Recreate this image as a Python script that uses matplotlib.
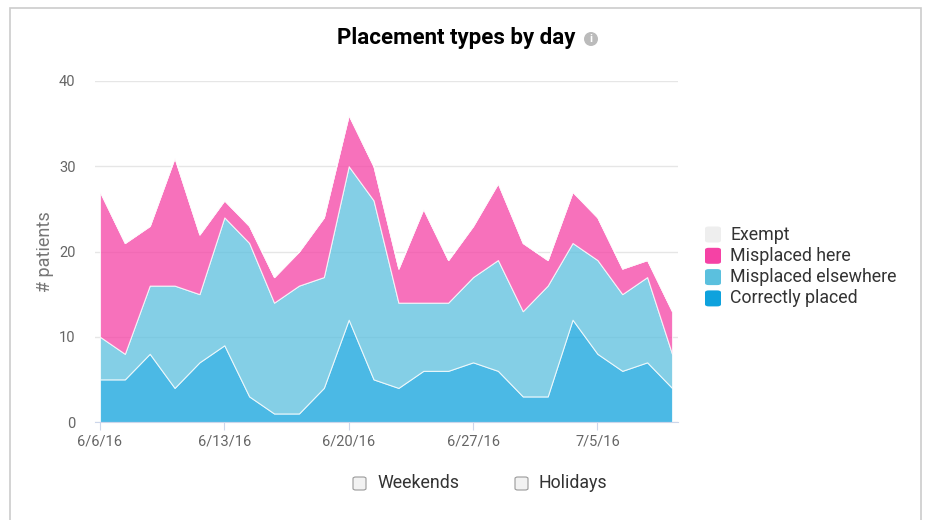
import numpy as np
import matplotlib.pyplot as plt
from matplotlib.patches import FancyBboxPatch, Rectangle, Ellipse

plt.rcParams['font.family'] = ['Roboto', 'DejaVu Sans']

# Weekdays only (7/4 holiday skipped)
days = ['6/6', '6/7', '6/8', '6/9', '6/10',
        '6/13', '6/14', '6/15', '6/16', '6/17',
        '6/20', '6/21', '6/22', '6/23', '6/24',
        '6/27', '6/28', '6/29', '6/30', '7/1',
        '7/5', '7/6', '7/7', '7/8']
correct = [5, 5, 8, 4, 7, 9, 3, 1, 1, 4, 12, 5, 4, 6, 6, 7, 6, 3, 3, 12, 8, 6, 7, 4]
elsewhere = [5, 3, 8, 12, 8, 15, 18, 13, 15, 13, 18, 21, 10, 8, 8, 10, 13, 10, 13, 9, 11, 9, 10, 4]
here = [17, 13, 7, 15, 7, 2, 2, 3, 4, 7, 6, 4, 4, 11, 5, 6, 9, 8, 3, 6, 5, 3, 2, 5]
exempt = [0] * len(days)

tick_idx = [0, 5, 10, 15, 20]
tick_labels = ['6/6/16', '6/13/16', '6/20/16', '6/27/16', '7/5/16']

series_names = ['Correctly placed', 'Misplaced elsewhere', 'Misplaced here', 'Exempt']
colors = ['#0ea2dd', '#5bc0de', '#f542a5', '#eeeeee']

W, H = 926, 520
fig = plt.figure(figsize=(W / 100, H / 100), dpi=100)
ax = fig.add_axes([95 / W, 1 - 422 / H, (678 - 95) / W, (422 - 81) / H])

x = np.arange(len(days))
ax.stackplot(x, correct, elsewhere, here, exempt, colors=colors, alpha=0.75,
             edgecolor=(1, 1, 1, 0.5), linewidth=0.8)

ax.set_xlim(-0.2, 23.24)
ax.set_ylim(0, 40)
ax.set_yticks([0, 10, 20, 30, 40])
ax.grid(axis='y', color='#e6e6e6', linewidth=1)
ax.set_axisbelow(True)
for s in ['top', 'right', 'left']:
    ax.spines[s].set_visible(False)
ax.spines['bottom'].set_color('#ccd6eb')
ax.tick_params(axis='y', length=0, labelsize=10.5, labelcolor='#666666', pad=14)
ax.set_xticks(tick_idx)
ax.set_xticklabels(tick_labels)
ax.tick_params(axis='x', length=6, color='#ccd6eb', labelsize=10.5, labelcolor='#666666', pad=3)
ax.set_ylabel('# patients', fontsize=13, color='#777777', labelpad=4)

# title + info icon
fig.text(456 / W, 1 - 38 / H, 'Placement types by day', ha='center', va='center',
         fontsize=16, fontweight='bold', color='#000000')
fig.patches.append(Ellipse((591 / W, 1 - 39 / H), 14 / W, 14 / H, transform=fig.transFigure,
                           facecolor='#bbbbbb', edgecolor='none'))
fig.text(591 / W, 1 - 39.5 / H, 'i', ha='center', va='center', fontsize=8,
         fontweight='bold', color='white')

# legend (top to bottom)
leg_names = series_names[::-1]
leg_colors = colors[::-1]
for i, (n, c) in enumerate(zip(leg_names, leg_colors)):
    yc = 234.5 + i * 21.3
    fig.patches.append(FancyBboxPatch((705 / W, 1 - (yc + 8) / H), 16 / W, 16 / H,
                                      boxstyle='round,pad=0,rounding_size=0.004',
                                      transform=fig.transFigure, facecolor=c, edgecolor='none'))
    fig.text(730 / W, 1 - yc / H, n, ha='left', va='center', fontsize=12.8, color='#333333')

# checkboxes
for bx, label in [(359, 'Weekends'), (521, 'Holidays')]:
    fig.patches.append(FancyBboxPatch(((bx - 6) / W, 1 - 490 / H), 13 / W, 13 / H,
                                      boxstyle='round,pad=0,rounding_size=0.003',
                                      transform=fig.transFigure, facecolor='#f2f2f2',
                                      edgecolor='#999999', linewidth=0.8))
    fig.text((bx + 18) / W, 1 - 483 / H, label, ha='left', va='center', fontsize=12.8,
             color='#333333')

# outer frame
fig.patches.append(Rectangle((10 / W, -0.05), 911 / W, 1.05 - 8 / H, transform=fig.transFigure,
                             fill=False, edgecolor='#cccccc', linewidth=1.2))

fig.savefig('out.png', dpi=100)
